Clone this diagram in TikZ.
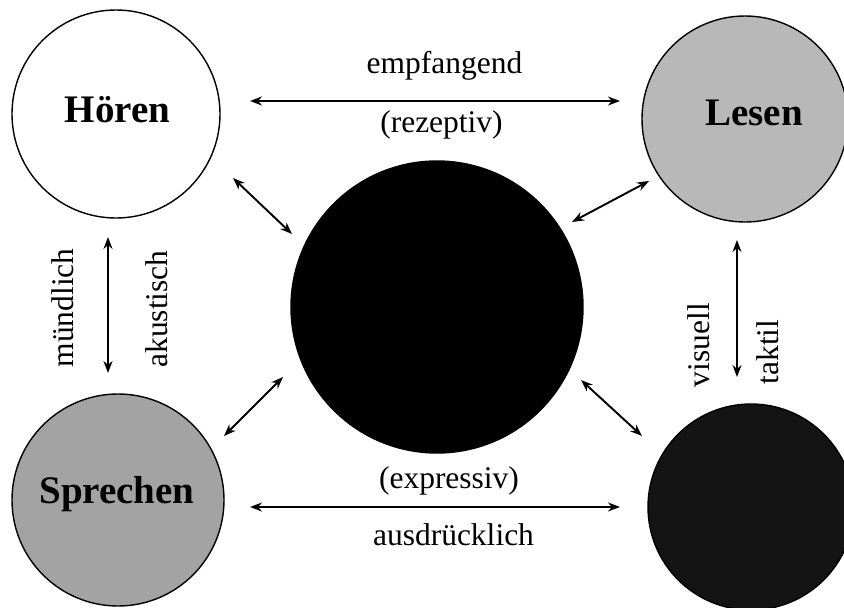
\documentclass[tikz,border=0pt]{standalone}
\usepackage{fontspec}
\setmainfont{Liberation Serif}
\usetikzlibrary{arrows.meta}
\definecolor{lesengray}{gray}{0.72}
\definecolor{sprechgray}{gray}{0.64}
\definecolor{darkfill}{gray}{0.08}
\begin{document}
\begin{tikzpicture}[x=1pt,y=-1pt,
  disc/.style={circle, draw=black, line width=1.4pt, inner sep=0pt, minimum size=#1},
  biglabel/.style={font=\fontsize{39}{39}\selectfont\bfseries, inner sep=0pt, anchor=base},
  smalllabel/.style={font=\fontsize{31.5}{31.5}\selectfont, inner sep=0pt, anchor=base},
  link/.style={line width=1.9pt, {Stealth[length=12pt,width=9pt]}-{Stealth[length=12pt,width=9pt]}}]
\useasboundingbox (0,0) rectangle (844,608);
% circles
\node[disc=208pt, fill=white] (hoeren) at (116,114) {};
\node[disc=206pt, fill=lesengray] (lesen) at (745,119) {};
\node[disc=292pt, fill=black] (mitte) at (437,307) {};
\node[disc=212pt, fill=sprechgray] (sprechen) at (118,500) {};
\node[disc=206pt, fill=darkfill] (schreiben) at (751,507) {};
% circle labels
\node[biglabel] (hoerenT) at (117.5,122) {Hören};
\node[biglabel] (lesenT) at (754,125) {Lesen};
\node[biglabel] (sprechenT) at (117,503) {Sprechen};
% arrow end points
\coordinate (hl1) at (250,101);
\coordinate (hl2) at (620,101);
\coordinate (ss1) at (250,507);
\coordinate (ss2) at (620,507);
\coordinate (hs1) at (108,237);
\coordinate (hs2) at (108,373);
\coordinate (lr1) at (737,240);
\coordinate (lr2) at (737,377);
\coordinate (hm1) at (233,178);
\coordinate (hm2) at (292,234);
\coordinate (lm1) at (649,181);
\coordinate (lm2) at (572,222);
\coordinate (sm1) at (283,377);
\coordinate (sm2) at (224,436);
\coordinate (rm1) at (581,380);
\coordinate (rm2) at (642,436);
% connectors
\draw[link] (hl1) -- (hl2);
\draw[link] (ss1) -- (ss2);
\draw[link] (hs1) -- (hs2);
\draw[link] (lr1) -- (lr2);
\draw[link] (hm1) -- (hm2);
\draw[link] (lm1) -- (lm2);
\draw[link] (sm1) -- (sm2);
\draw[link] (rm1) -- (rm2);
% connector labels
\node[smalllabel] (empf) at (444.5,73) {empfangend};
\node[smalllabel] (rezep) at (441.5,132) {(rezeptiv)};
\node[smalllabel] (expr) at (449,488) {(expressiv)};
\node[smalllabel] (ausd) at (453.5,545) {ausdrücklich};
\node[smalllabel, rotate=90] (muend) at (73,308) {mündlich};
\node[smalllabel, rotate=90] (akust) at (167,309) {akustisch};
\node[smalllabel, rotate=90] (visu) at (709,345) {visuell};
\node[smalllabel, rotate=90] (takt) at (778,352) {taktil};
\end{tikzpicture}
\end{document}
